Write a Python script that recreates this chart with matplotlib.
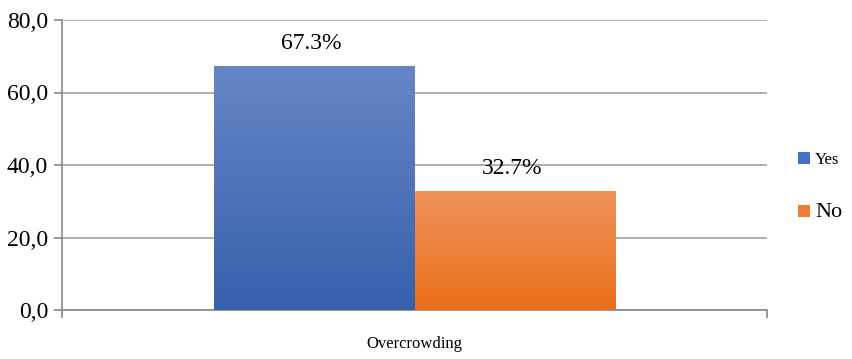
import numpy as np
import matplotlib
matplotlib.use('Agg')
import matplotlib.pyplot as plt
from matplotlib.colors import LinearSegmentedColormap

plt.rcParams['font.family'] = ['Liberation Serif', 'DejaVu Serif']

category = 'Overcrowding'
series = ['Yes', 'No']
values = [67.3, 32.7]
yticks = [0, 20, 40, 60, 80]

# gradient colours (top, bottom) for each series
grads = [('#6686C6', '#3760AC'), ('#F1935B', '#E86E19')]
solid = ['#4472C4', '#ED7D31']

fig = plt.figure(figsize=(8.52, 3.59), dpi=100)
ax = fig.add_axes([62/852, 1-310/359, (767-62)/852, (310-20)/359])

w = 0.284
xs = [-w/2, w/2]
for i in range(len(series)):
    b = ax.bar(xs[i], values[i], width=w, color=solid[i], label=series[i], zorder=2)
    r = b.patches[0]
    cmap = LinearSegmentedColormap.from_list('g%d' % i, [grads[i][1], grads[i][0]])
    grad = np.linspace(0, 1, 256).reshape(-1, 1)
    im = ax.imshow(grad, cmap=cmap, aspect='auto', origin='lower',
                   extent=[xs[i]-w/2, xs[i]+w/2, 0, values[i]], zorder=3)
    im.set_clip_path(r)
    ax.annotate('%.1f%%' % values[i], (xs[i], values[i]), xytext=(-2, 9),
                textcoords='offset points', ha='center', va='bottom', fontsize=17)

ax.set_xlim(-0.5, 0.5)
ax.set_ylim(0, 80)
ax.set_yticks(yticks)
ax.set_yticklabels(['%d,0' % v for v in yticks], fontsize=17)
ax.yaxis.grid(True, color='#A0A0A0', linewidth=1.2, zorder=0)
ax.set_axisbelow(True)

ax.set_xticks([0])
ax.set_xticklabels([category], fontsize=12)
ax.set_xticks([-0.5, 0.5], minor=True)
ax.tick_params(axis='x', which='major', length=0, pad=19)
ax.tick_params(axis='x', which='minor', length=6, color='#888888', width=1.2)
ax.tick_params(axis='y', length=6, color='#888888', width=1.2, pad=4)

for s in ['top', 'right']:
    ax.spines[s].set_visible(False)
for s in ['left', 'bottom']:
    ax.spines[s].set_color('#888888')
    ax.spines[s].set_linewidth(1.2)

leg = ax.legend(loc='center left', bbox_to_anchor=(0.937, 0.48),
                bbox_transform=fig.transFigure, frameon=False,
                handlelength=0.7, handleheight=0.7, handletextpad=0.3,
                labelspacing=2.1, fontsize=12, borderaxespad=0, borderpad=0)
leg.get_texts()[1].set_fontsize(16)

fig.savefig('out.png', dpi=100)
